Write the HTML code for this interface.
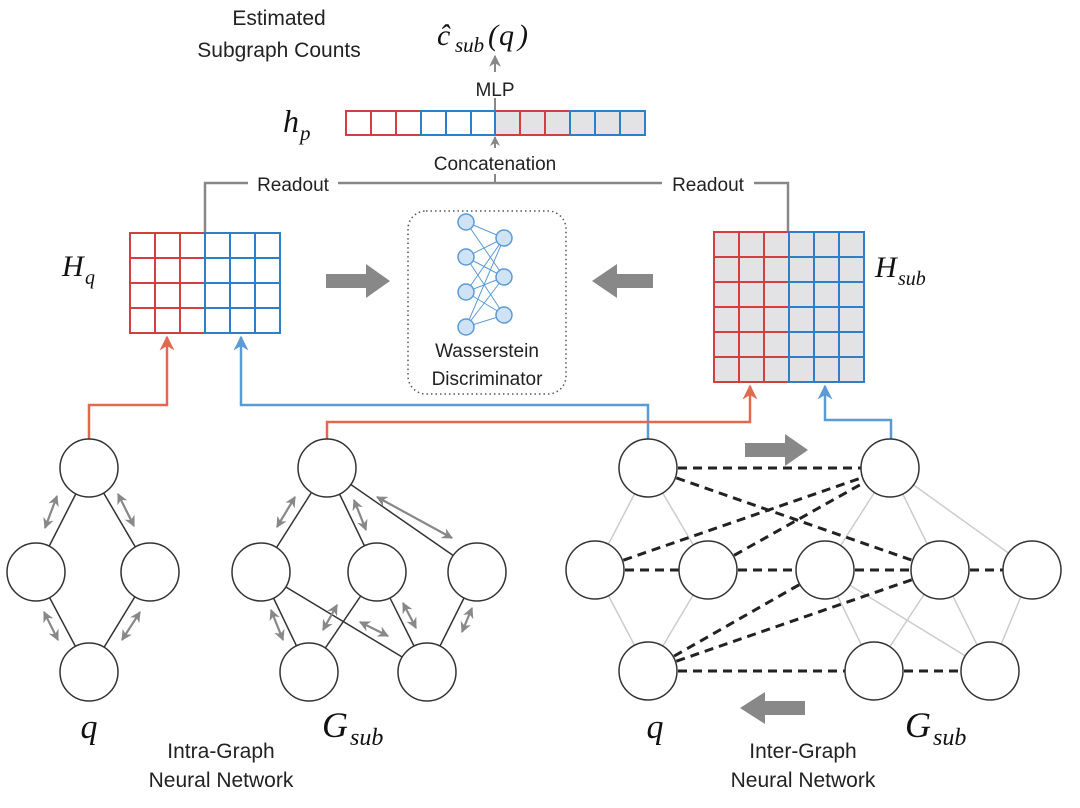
<!DOCTYPE html>
<html><head><meta charset="utf-8"><style>
html,body{margin:0;padding:0;background:#fff;}
svg{display:block}
.s{font-family:"Liberation Sans",sans-serif;fill:#222}
.m{font-family:"Liberation Serif",serif;font-style:italic;fill:#111}
</style></head><body>
<svg width="1080" height="808" viewBox="0 0 1080 808" xmlns="http://www.w3.org/2000/svg">
<defs>
<marker id="ga" viewBox="0 0 10 10" refX="9" refY="5" markerWidth="6" markerHeight="6" orient="auto-start-reverse"><path d="M0,0L10,5L0,10L3,5z" fill="#888"/></marker>
<marker id="gs" viewBox="0 0 10 10" refX="9" refY="5" markerWidth="5" markerHeight="5" orient="auto-start-reverse"><path d="M0,0L10,5L0,10L3,5z" fill="#888"/></marker>
<marker id="ra" viewBox="0 0 10 10" refX="9" refY="5" markerWidth="6" markerHeight="6" orient="auto"><path d="M0,0L10,5L0,10L3,5z" fill="#e06a50"/></marker>
<marker id="ba" viewBox="0 0 10 10" refX="9" refY="5" markerWidth="6" markerHeight="6" orient="auto"><path d="M0,0L10,5L0,10L3,5z" fill="#5b9bd5"/></marker>
</defs>

<text class="s" x="279" y="25" font-size="21" text-anchor="middle">Estimated</text>
<text class="s" x="279" y="57" font-size="21" text-anchor="middle">Subgraph Counts</text>
<text class="m" x="437" y="45" font-size="30">ĉ</text>
<text class="m" x="455" y="52" font-size="21">sub</text>
<text class="m" x="488" y="45" font-size="30" font-style="normal">(</text><text class="m" x="499" y="45" font-size="30">q</text><text class="m" x="518" y="45" font-size="30" font-style="normal">)</text>
<line x1="495" y1="72" x2="495" y2="56" stroke="#888" stroke-width="2" marker-end="url(#ga)"/>
<text class="s" x="495" y="96" font-size="19" text-anchor="middle">MLP</text>
<line x1="495" y1="98" x2="495" y2="112" stroke="#888" stroke-width="2"/>

<text class="m" x="283" y="132" font-size="32">h</text><text class="m" x="300" y="140" font-size="21">p</text>
<g stroke-width="2">
<rect x="495" y="111" width="150" height="24" fill="#e3e3e6" stroke="none"/>
<g stroke="#d04040" fill="none">
<rect x="346" y="111" width="75" height="24"/><line x1="371" y1="111" x2="371" y2="135"/><line x1="396" y1="111" x2="396" y2="135"/>
<rect x="495" y="111" width="75" height="24"/><line x1="520" y1="111" x2="520" y2="135"/><line x1="545" y1="111" x2="545" y2="135"/>
</g>
<g stroke="#2f7fc8" fill="none">
<rect x="421" y="111" width="74" height="24"/><line x1="446" y1="111" x2="446" y2="135"/><line x1="471" y1="111" x2="471" y2="135"/>
<rect x="570" y="111" width="75" height="24"/><line x1="595" y1="111" x2="595" y2="135"/><line x1="620" y1="111" x2="620" y2="135"/>
</g>
</g>
<line x1="495" y1="183" x2="495" y2="137" stroke="#888" stroke-width="2" marker-end="url(#gs)"/>
<rect x="415" y="148" width="160" height="26" fill="#fff"/>
<text class="s" x="495" y="170" font-size="19" text-anchor="middle">Concatenation</text>

<polyline points="205,233 205,183 788,183 788,232" fill="none" stroke="#888" stroke-width="2.5"/>
<rect x="248" y="172" width="90" height="22" fill="#fff"/>
<text class="s" x="293" y="191" font-size="19" text-anchor="middle">Readout</text>
<rect x="662" y="172" width="92" height="22" fill="#fff"/>
<text class="s" x="708" y="191" font-size="19" text-anchor="middle">Readout</text>

<text class="m" x="62" y="276" font-size="30">H</text><text class="m" x="85" y="284" font-size="20">q</text>
<g stroke-width="2" fill="none">
<g stroke="#d04040">
<rect x="130" y="233" width="75" height="100"/>
<line x1="155" y1="233" x2="155" y2="333"/><line x1="180" y1="233" x2="180" y2="333"/>
<line x1="130" y1="258" x2="205" y2="258"/><line x1="130" y1="283" x2="205" y2="283"/><line x1="130" y1="308" x2="205" y2="308"/>
</g>
<g stroke="#2f7fc8">
<rect x="205" y="233" width="75" height="100"/>
<line x1="230" y1="233" x2="230" y2="333"/><line x1="255" y1="233" x2="255" y2="333"/>
<line x1="205" y1="258" x2="280" y2="258"/><line x1="205" y1="283" x2="280" y2="283"/><line x1="205" y1="308" x2="280" y2="308"/>
</g>
</g>

<rect x="714" y="232" width="150" height="150" fill="#e3e3e6"/>
<g stroke-width="2" fill="none">
<g stroke="#d04040">
<rect x="714" y="232" width="75" height="150"/>
<line x1="739" y1="232" x2="739" y2="382"/><line x1="764" y1="232" x2="764" y2="382"/>
<line x1="714" y1="257" x2="789" y2="257"/><line x1="714" y1="282" x2="789" y2="282"/><line x1="714" y1="307" x2="789" y2="307"/><line x1="714" y1="332" x2="789" y2="332"/><line x1="714" y1="357" x2="789" y2="357"/>
</g>
<g stroke="#2f7fc8">
<rect x="789" y="232" width="75" height="150"/>
<line x1="814" y1="232" x2="814" y2="382"/><line x1="839" y1="232" x2="839" y2="382"/>
<line x1="789" y1="257" x2="864" y2="257"/><line x1="789" y1="282" x2="864" y2="282"/><line x1="789" y1="307" x2="864" y2="307"/><line x1="789" y1="332" x2="864" y2="332"/><line x1="789" y1="357" x2="864" y2="357"/>
</g>
</g>
<text class="m" x="875" y="277" font-size="30">H</text><text class="m" x="898" y="285" font-size="20">sub</text>

<path d="M326,274 H366 V264 L390,281 L366,298 V288 H326 Z" fill="#888"/>
<path d="M653,274 H617 V264 L592,281 L617,298 V288 H653 Z" fill="#888"/>
<path d="M745,443 H785 V434 L808,450 L785,466 V457 H745 Z" fill="#888"/>
<path d="M805,701 H765 V692 L740,708 L765,724 V715 H805 Z" fill="#888"/>

<rect x="408" y="211" width="158" height="183" rx="18" fill="none" stroke="#555" stroke-width="1.5" stroke-dasharray="1.5,3"/>
<g stroke="#5b9bd5" stroke-width="1">
<line x1="466" y1="222" x2="504" y2="238"/><line x1="466" y1="222" x2="504" y2="277"/>
<line x1="466" y1="257" x2="504" y2="238"/><line x1="466" y1="257" x2="504" y2="277"/><line x1="466" y1="257" x2="504" y2="315"/>
<line x1="466" y1="292" x2="504" y2="238"/><line x1="466" y1="292" x2="504" y2="277"/><line x1="466" y1="292" x2="504" y2="315"/>
<line x1="466" y1="327" x2="504" y2="238"/><line x1="466" y1="327" x2="504" y2="277"/><line x1="466" y1="327" x2="504" y2="315"/>
</g>
<g fill="#cfe3f5" stroke="#5b9bd5" stroke-width="1.5">
<circle cx="466" cy="222" r="8"/><circle cx="466" cy="257" r="8"/><circle cx="466" cy="292" r="8"/><circle cx="466" cy="327" r="8"/>
<circle cx="504" cy="238" r="8"/><circle cx="504" cy="277" r="8"/><circle cx="504" cy="315" r="8"/>
</g>
<text class="s" x="487" y="357" font-size="19" text-anchor="middle">Wasserstein</text>
<text class="s" x="487" y="385" font-size="19" text-anchor="middle">Discriminator</text>

<polyline points="89,439 89,405 167,405 167,337" fill="none" stroke="#e06a50" stroke-width="2.5" marker-end="url(#ra)"/>
<polyline points="648,439 648,405 241,405 241,337" fill="none" stroke="#5b9bd5" stroke-width="2.5" marker-end="url(#ba)"/>
<polyline points="327,439 327,422 750,422 750,386" fill="none" stroke="#e06a50" stroke-width="2.5" marker-end="url(#ra)"/>
<polyline points="891,439 891,420 825,420 825,386" fill="none" stroke="#5b9bd5" stroke-width="2.5" marker-end="url(#ba)"/>

<g stroke="#333" stroke-width="1.5">
<line x1="89" y1="468" x2="36" y2="572"/><line x1="89" y1="468" x2="150" y2="572"/>
<line x1="36" y1="572" x2="89" y2="672"/><line x1="150" y1="572" x2="89" y2="672"/>
<line x1="327" y1="468" x2="261" y2="572"/><line x1="327" y1="468" x2="377" y2="572"/><line x1="327" y1="468" x2="477" y2="572"/>
<line x1="261" y1="572" x2="309" y2="672"/><line x1="261" y1="572" x2="427" y2="672"/>
<line x1="377" y1="572" x2="309" y2="672"/><line x1="377" y1="572" x2="427" y2="672"/>
<line x1="477" y1="572" x2="427" y2="672"/>
</g>
<g stroke="#888" stroke-width="2.2">
<line x1="57" y1="496" x2="45" y2="528" marker-start="url(#gs)" marker-end="url(#gs)"/>
<line x1="118" y1="494" x2="134" y2="526" marker-start="url(#gs)" marker-end="url(#gs)"/>
<line x1="44" y1="612" x2="58" y2="640" marker-start="url(#gs)" marker-end="url(#gs)"/>
<line x1="140" y1="612" x2="122" y2="640" marker-start="url(#gs)" marker-end="url(#gs)"/>
<line x1="295" y1="497" x2="277" y2="527" marker-start="url(#gs)" marker-end="url(#gs)"/>
<line x1="354" y1="500" x2="366" y2="530" marker-start="url(#gs)" marker-end="url(#gs)"/>
<line x1="377" y1="497" x2="452" y2="538" marker-start="url(#gs)" marker-end="url(#gs)"/>
<line x1="271" y1="610" x2="283" y2="640" marker-start="url(#gs)" marker-end="url(#gs)"/>
<line x1="337" y1="605" x2="323" y2="630" marker-start="url(#gs)" marker-end="url(#gs)"/>
<line x1="360" y1="622" x2="388" y2="636" marker-start="url(#gs)" marker-end="url(#gs)"/>
<line x1="403" y1="603" x2="416" y2="628" marker-start="url(#gs)" marker-end="url(#gs)"/>
<line x1="472" y1="608" x2="462" y2="632" marker-start="url(#gs)" marker-end="url(#gs)"/>
</g>
<g fill="#fff" stroke="#333" stroke-width="1.5">
<circle cx="89" cy="468" r="29"/><circle cx="36" cy="572" r="29"/><circle cx="150" cy="572" r="29"/><circle cx="89" cy="672" r="29"/>
<circle cx="327" cy="468" r="29"/><circle cx="261" cy="572" r="29"/><circle cx="377" cy="572" r="29"/><circle cx="477" cy="572" r="29"/><circle cx="309" cy="672" r="29"/><circle cx="427" cy="672" r="29"/>
</g>

<g stroke="#ccc" stroke-width="1.5">
<line x1="648" y1="468" x2="595" y2="570"/><line x1="648" y1="468" x2="708" y2="570"/>
<line x1="595" y1="570" x2="648" y2="671"/><line x1="708" y1="570" x2="648" y2="671"/>
<line x1="890" y1="468" x2="825" y2="570"/><line x1="890" y1="468" x2="940" y2="570"/><line x1="890" y1="468" x2="1032" y2="570"/>
<line x1="825" y1="570" x2="874" y2="671"/><line x1="825" y1="570" x2="990" y2="671"/>
<line x1="940" y1="570" x2="874" y2="671"/><line x1="940" y1="570" x2="990" y2="671"/>
<line x1="1032" y1="570" x2="990" y2="671"/>
</g>
<g stroke="#222" stroke-width="3" stroke-dasharray="9,6">
<line x1="648" y1="468" x2="890" y2="468"/>
<line x1="648" y1="468" x2="940" y2="570"/>
<line x1="595" y1="570" x2="890" y2="468"/>
<line x1="708" y1="570" x2="890" y2="468"/>
<line x1="595" y1="570" x2="708" y2="570"/>
<line x1="708" y1="570" x2="825" y2="570"/>
<line x1="825" y1="570" x2="940" y2="570"/>
<line x1="940" y1="570" x2="1032" y2="570"/>
<line x1="648" y1="671" x2="825" y2="570"/>
<line x1="648" y1="671" x2="940" y2="570"/>
<line x1="648" y1="671" x2="874" y2="671"/>
<line x1="874" y1="671" x2="990" y2="671"/>
</g>
<g fill="#fff" stroke="#333" stroke-width="1.5">
<circle cx="648" cy="468" r="29"/><circle cx="595" cy="570" r="29"/><circle cx="708" cy="570" r="29"/><circle cx="648" cy="671" r="29"/>
<circle cx="890" cy="468" r="29"/><circle cx="825" cy="570" r="29"/><circle cx="940" cy="570" r="29"/><circle cx="1032" cy="570" r="29"/><circle cx="874" cy="671" r="29"/><circle cx="990" cy="671" r="29"/>
</g>

<text class="m" x="89" y="738" font-size="34" text-anchor="middle">q</text>
<text class="m" x="322" y="737" font-size="36">G</text><text class="m" x="350" y="745" font-size="24">sub</text>
<text class="s" x="221" y="758" font-size="21" text-anchor="middle">Intra-Graph</text>
<text class="s" x="221" y="787" font-size="21" text-anchor="middle">Neural Network</text>
<text class="m" x="655" y="738" font-size="34" text-anchor="middle">q</text>
<text class="m" x="905" y="737" font-size="36">G</text><text class="m" x="933" y="745" font-size="24">sub</text>
<text class="s" x="803" y="758" font-size="21" text-anchor="middle">Inter-Graph</text>
<text class="s" x="803" y="787" font-size="21" text-anchor="middle">Neural Network</text>
</svg>
</body></html>
